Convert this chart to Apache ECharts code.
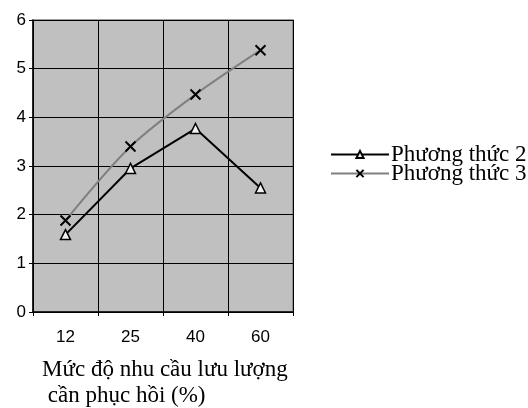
<!DOCTYPE html>
<html><head><meta charset="utf-8">
<script src="https://cdn.jsdelivr.net/npm/echarts@6/dist/echarts.min.js"></script>
<style>html,body{margin:0;padding:0;background:#fff}#c{width:528px;height:408px}</style>
</head><body><div id="c"></div>
<script>
const categories = ['12', '25', '40', '60'];
const seriesNames = ['Phương thức 2', 'Phương thức 3'];
const pt2 = [1.59, 2.95, 3.77, 2.55];
const pt3 = [1.88, 3.4, 4.47, 5.38];
const xTitle = 'Mức độ nhu cầu lưu lượng\n cần phục hồi (%)';

const chart = echarts.init(document.getElementById('c'));
const serif = 'Liberation Serif';
const sans = 'Liberation Sans';
chart.setOption({
  animation: false,
  grid: {
    left: 33, right: 235, top: 20, bottom: 96,
    show: true, backgroundColor: '#c0c0c0', borderColor: '#808080', borderWidth: 1.5
  },
  xAxis: {
    type: 'category', data: categories, boundaryGap: true,
    axisLine: { lineStyle: { color: '#000', width: 1.5 } },
    axisTick: { show: true, length: 4, lineStyle: { color: '#000' } },
    axisLabel: { fontFamily: sans, fontSize: 17, color: '#000', margin: 17 },
    splitLine: { show: true, lineStyle: { color: '#000', width: 1 } }
  },
  yAxis: {
    type: 'value', min: 0, max: 6, interval: 1,
    axisLine: { show: true, lineStyle: { color: '#000', width: 1.5 } },
    axisTick: { show: true, length: 4, lineStyle: { color: '#000' } },
    axisLabel: { fontFamily: sans, fontSize: 17, color: '#000', margin: 7, padding: [0, 0, 5, 0] },
    splitLine: { show: true, lineStyle: { color: '#000', width: 1 } }
  },
  legend: {
    orient: 'vertical', left: 325, top: 138, itemWidth: 58, itemHeight: 9, itemGap: -4,
    textStyle: { fontFamily: serif, fontSize: 23, color: '#000', padding: [0, 0, 0, -3] },
    data: seriesNames
  },
  graphic: [{
    type: 'text', left: 42, top: 357,
    style: { text: xTitle, font: '23px "Liberation Serif"', fill: '#000', lineHeight: 26 }
  }],
  series: [
    {
      name: seriesNames[0], type: 'line', data: pt2,
      symbol: 'triangle', symbolSize: 10,
      lineStyle: { color: '#000', width: 2 },
      itemStyle: { color: '#f0f0f0', borderColor: '#000', borderWidth: 1.5 }
    },
    {
      name: seriesNames[1], type: 'line', data: pt3, smooth: 0.3,
      symbol: 'path://M0,0L10,10M10,0L0,10', symbolSize: 10,
      lineStyle: { color: '#808080', width: 2 },
      itemStyle: { color: '#000', borderColor: '#000', borderWidth: 2 }
    }
  ]
});
</script></body></html>
